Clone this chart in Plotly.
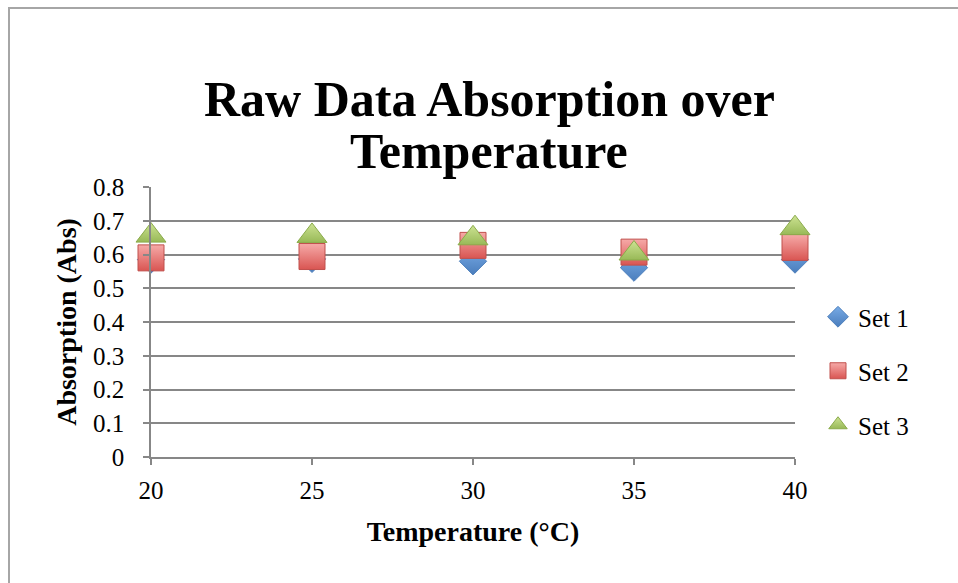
import plotly.graph_objects as go

# ---- data ----
temperature = [20, 25, 30, 35, 40]
set1 = [0.585, 0.587, 0.580, 0.561, 0.585]
set2 = [0.590, 0.594, 0.627, 0.607, 0.621]
set3 = [0.656, 0.655, 0.648, 0.603, 0.678]
series_names = ["Set 1", "Set 2", "Set 3"]

title_lines = ["Raw Data Absorption over", "Temperature"]
x_title = "Temperature (°C)"
y_title = "Absorption (Abs)"

W, H = 958, 583
L, R, T, B = 151, 163, 187, 126
pw, ph = W - L - R, H - T - B

serif = "Liberation Serif"

def px_x(p):
    return (p - L) / pw

def px_y(p):
    return (H - B - p) / ph

fig = go.Figure()

styles = [
    dict(symbol="diamond", size=21, color="#78abe6", grad="#4a7dbc", line="#4f81bd"),
    dict(symbol="square", size=26, color="#f6aaa8", grad="#d95552", line="#c0504d"),
    dict(symbol="triangle-up", size=26, color="#cde393", grad="#98b957", line="#8aab4a"),
]

for name, vals, st in zip(series_names, [set1, set2, set3], styles):
    fig.add_trace(go.Scatter(
        x=temperature, y=vals, name=name, mode="markers",
        legendgroup=name,
        cliponaxis=False,
        marker=dict(symbol=st["symbol"], size=st["size"], color=st["color"],
                    gradient=dict(type="vertical", color=st["grad"]),
                    line=dict(color=st["line"], width=1)),
    ))

axis_color = "#878787"
fig.update_layout(
    width=W, height=H,
    margin=dict(l=L, r=R, t=T, b=B, autoexpand=False),
    paper_bgcolor="white", plot_bgcolor="white",
    font=dict(family=serif, color="black", size=25),
    xaxis=dict(range=[20, 40], dtick=5, tick0=20, showgrid=False, zeroline=False,
               showline=True, linecolor=axis_color, linewidth=1.5,
               ticks="outside", ticklen=6, tickcolor=axis_color, tickwidth=1.5,
               tickfont=dict(family=serif, size=25), ticklabelstandoff=4,
               title=dict(text=x_title, font=dict(family=serif, size=28, weight="bold"), standoff=19)),
    yaxis=dict(range=[0, 0.8], dtick=0.1, tick0=0, showgrid=True, gridcolor=axis_color, gridwidth=1.5,
               zeroline=False, showline=True, linecolor=axis_color, linewidth=1.5,
               ticks="outside", ticklen=6, tickcolor=axis_color, tickwidth=1.5,
               tickfont=dict(family=serif, size=25), ticklabelstandoff=14,
               title=dict(text=y_title, font=dict(family=serif, size=28, weight="bold"), standoff=8)),
    legend=dict(x=px_x(818), xanchor="left", y=px_y(294), yanchor="top",
                font=dict(family=serif, size=25), tracegroupgap=18.5,
                bgcolor="rgba(0,0,0,0)"),
    annotations=[
        dict(text=f"<b>{title_lines[0]}</b>", xref="paper", yref="paper",
             x=px_x(489), y=px_y(99), xanchor="center", yanchor="middle", showarrow=False,
             font=dict(family=serif, size=50, color="black")),
        dict(text=f"<b>{title_lines[1]}</b>", xref="paper", yref="paper",
             x=px_x(489), y=px_y(151), xanchor="center", yanchor="middle", showarrow=False,
             font=dict(family=serif, size=50, color="black")),
    ],
    shapes=[
        dict(type="rect", xref="paper", yref="paper",
             x0=px_x(9), x1=px_x(W + 20), y0=px_y(H + 20), y1=px_y(8),
             line=dict(color="#a6a6a6", width=2), fillcolor="rgba(0,0,0,0)", layer="below"),
    ],
)

fig.write_html("out.html")
